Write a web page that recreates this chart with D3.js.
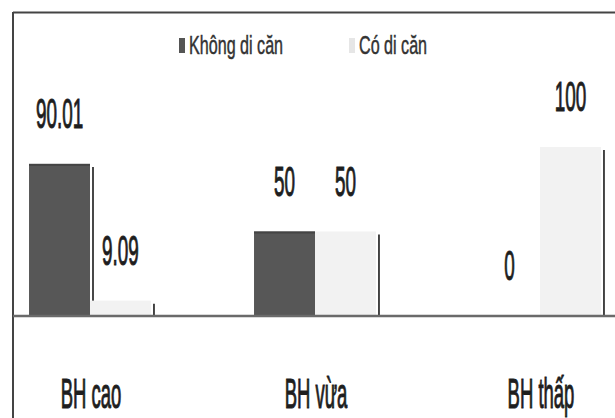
<!DOCTYPE html>
<html>
<head>
<meta charset="utf-8">
<script src="https://cdn.jsdelivr.net/npm/d3@7"></script>
<style>
  html, body { margin: 0; padding: 0; background: #fff; }
  svg { display: block; }
  text { font-family: "Liberation Sans", Arial, sans-serif; fill: #1e1e1e; }
  .thick { stroke: #1e1e1e; stroke-width: 1.1px; }
</style>
</head>
<body>
<svg id="chart" width="615" height="418"></svg>
<script>
// ---- data ----
const categories = ["BH cao", "BH vừa", "BH thấp"];
const seriesNames = ["Không di căn", "Có di căn"];
const khongDiCan = [90.01, 50, 0];
const coDiCan = [9.09, 50, 100];
const valueLabels = [["90.01", "50", "0"], ["9.09", "50", "100"]];
const seriesColors = ["#575757", "#f2f2f2"];

const svg = d3.select("#chart");
const W = 615, H = 418;

// frame (top + left border)
svg.append("line").attr("x1", 13).attr("x2", W).attr("y1", 12.5).attr("y2", 12.5)
  .attr("stroke", "#444").attr("stroke-width", 2);
svg.append("line").attr("x1", 13).attr("x2", 13).attr("y1", 12).attr("y2", H)
  .attr("stroke", "#444").attr("stroke-width", 2);

// scales
const x0 = d3.scaleBand().domain(categories).range([-22.5, 652.5])
  .paddingInner(0.458).paddingOuter(0.229);
const x1 = d3.scaleBand().domain(seriesNames).range([0, x0.bandwidth()]);
const y = d3.scaleLinear().domain([0, 100]).range([316, 147]);

const series = [khongDiCan, coDiCan];
const digitScale = 0.45;

series.forEach((vals, si) => {
  const g = svg.append("g");
  vals.forEach((v, ci) => {
    const bx = x0(categories[ci]) + x1(seriesNames[si]);
    const bw = x1.bandwidth();
    if (v > 0) {
      // shadow line on the right of each bar
      g.append("line")
        .attr("x1", bx + bw + 3).attr("x2", bx + bw + 3)
        .attr("y1", y(v) + 3).attr("y2", y(0))
        .attr("stroke", "#1a1a1a").attr("stroke-width", 1.6);
      g.append("rect")
        .attr("x", bx).attr("y", y(v))
        .attr("width", bw).attr("height", y(0) - y(v))
        .attr("fill", seriesColors[si]);
      if (si === 0) {
        g.append("rect").attr("x", bx).attr("y", y(v)).attr("width", bw).attr("height", 2)
          .attr("fill", "#444");
      }
    }
  });
});

// value labels
series.forEach((vals, si) => {
  vals.forEach((v, ci) => {
    const cx = x0(categories[ci]) + x1(seriesNames[si]) + x1.bandwidth() / 2;
    svg.append("g").attr("transform", `translate(${cx},${y(v) - 36})`)
      .append("text")
      .attr("class", "thick")
      .attr("transform", `scale(${digitScale},1)`)
      .attr("text-anchor", "middle")
      .attr("font-size", 42)
      .text(valueLabels[si][ci]);
  });
});

// baseline axis
const xAxis = d3.axisBottom(x0).tickSize(0).tickPadding(0).tickFormat("");
const axG = svg.append("g").attr("transform", `translate(0,${y(0)})`).call(xAxis);
axG.select(".domain").remove();
svg.append("line").attr("x1", 13).attr("x2", W).attr("y1", y(0)).attr("y2", y(0))
  .attr("stroke", "#6a6a6a").attr("stroke-width", 2.5);

// category labels
categories.forEach(c => {
  svg.append("g").attr("transform", `translate(${x0(c) + x0.bandwidth() / 2 + 1},408)`)
    .append("text")
    .attr("class", "thick")
    .attr("transform", "scale(0.44,1)")
    .attr("text-anchor", "middle")
    .attr("font-size", 42)
    .text(c);
});

// legend
const legendX = [179, 349];
seriesNames.forEach((name, i) => {
  svg.append("rect").attr("x", legendX[i]).attr("y", 38).attr("width", 6).attr("height", 15)
    .attr("fill", i === 0 ? "#555" : "#e6e6e6");
  svg.append("g").attr("transform", `translate(${legendX[i] + 10},54)`)
    .append("text")
    .attr("transform", "scale(0.62,1)")
    .attr("font-size", 26)
    .style("fill", "#333")
    .style("stroke", "#333")
    .style("stroke-width", "0.5px")
    .text(name);
});
</script>
</body>
</html>
